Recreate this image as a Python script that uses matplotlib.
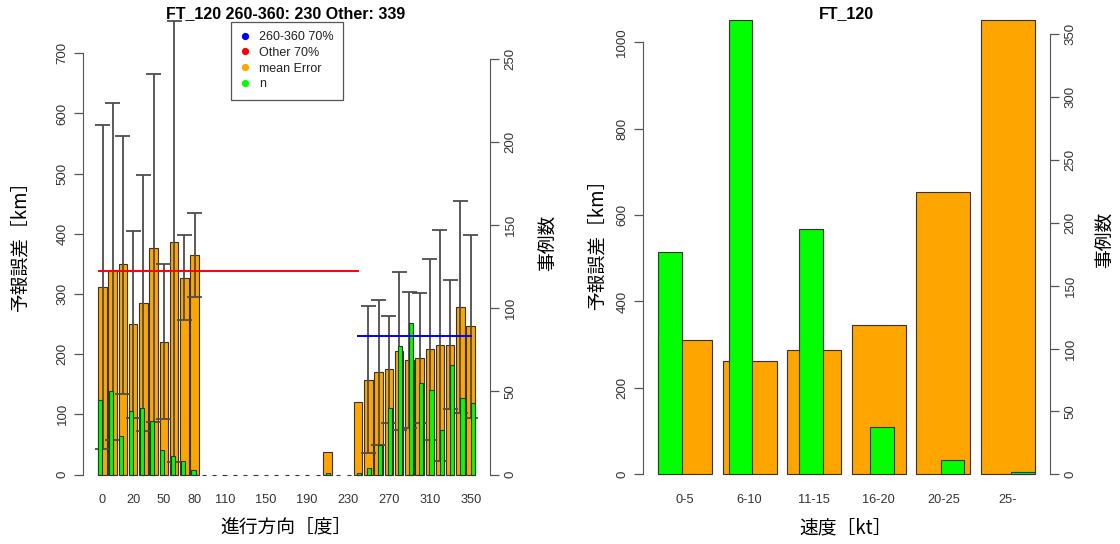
import numpy as np
import matplotlib.pyplot as plt
from matplotlib.lines import Line2D

plt.rcParams['font.family'] = ['Liberation Sans', 'Noto Sans CJK JP']

nan = np.nan

# --- left panel: error by direction of motion (FT_120) ---
dir_labels = ["0"] + [str(d) for d in range(0, 360, 10)]
dir_shown = [0, 3, 6, 9, 12, 16, 20, 24, 28, 32, 36]
dir_err = [312, 338, 350, 250, 285, 377, 221, 387, 327, 365,
           nan, nan, nan, nan, nan, nan, nan, nan, nan, nan, nan, nan,
           37, nan, nan,
           120, 157, 170, 175, 205, 190, 194, 209, 215, 216, 278, 246]
dir_lo = [42, 57, 133, 94, 73, 88, 93, 20, 257, 295] + [nan] * 16 + \
         [35, 49, 85, 74, 77, 86, 58, 23, 109, 102, 94]
dir_hi = [580, 618, 563, 405, 497, 665, 349, 754, 398, 434] + [nan] * 16 + \
         [280, 290, 264, 336, 303, 301, 358, 406, 323, 455, 398]
dir_n = [45, 50, 23, 38, 40, 32, 15, 11, 8, 3,
         0, 0, 0, 0, 0, 0, 0, 0, 0, 0, 0, 0,
         1, 0, 0,
         1, 4, 18, 40, 77, 91, 55, 51, 27, 66, 46, 43]
other_70 = 339
sector_70 = 230

# --- right panel: error by speed ---
spd_labels = ["0-5", "6-10", "11-15", "16-20", "20-25", "25-"]
spd_err = [311, 263, 288, 346, 654, 1052]
spd_n = [177, 361, 195, 38, 11, 2]

ORANGE = "#FFA500"
GREEN = "#00FF00"
EDGE = "#333333"
AXC = "#555555"
TXT = "#333333"
JP = "Noto Sans CJK JP"

fig = plt.figure(figsize=(11.2, 5.44), dpi=100)
W, H = 1120, 544


def style_axes(ax, ax2, lbound, rbound):
    for a in (ax, ax2):
        for s in ("top", "bottom"):
            a.spines[s].set_visible(False)
        a.tick_params(axis="y", length=6.5, width=0.9, color=AXC, labelsize=9.5,
                      labelcolor=TXT, pad=4, labelrotation=90)
    ax.spines["right"].set_visible(False)
    ax2.spines["left"].set_visible(False)
    ax.spines["left"].set_bounds(*lbound)
    ax.spines["left"].set_color(AXC)
    ax2.spines["right"].set_bounds(*rbound)
    ax2.spines["right"].set_color(AXC)
    plt.setp(ax.get_yticklabels(), va="center")
    plt.setp(ax2.get_yticklabels(), va="center")
    ax.tick_params(axis="x", length=0, labelsize=9.2, labelcolor=TXT, pad=1)
    ax2.tick_params(axis="x", length=0, labelbottom=False)


# ---------- left panel ----------
axL = fig.add_axes([83.2 / W, 51.5 / H, 406.8 / W, 490 / H])
axL2 = axL.twinx()
n_dir = len(dir_err)
idx = np.arange(n_dir)
left_o = 0.2 + 1.2 * idx
cent_o = left_o + 0.5
err = np.array(dir_err, dtype=float)
ok = ~np.isnan(err)
axL.bar(left_o[ok], err[ok], width=1.0, align="edge", color=ORANGE,
        edgecolor=EDGE, linewidth=0.8, zorder=2)
lo = np.array(dir_lo, dtype=float)
hi = np.array(dir_hi, dtype=float)
ek = ~np.isnan(lo)
axL.vlines(cent_o[ek], lo[ek], hi[ek], color="#4d4d4d", linewidth=1.3, zorder=3)
axL.hlines(lo[ek], cent_o[ek] - 0.88, cent_o[ek] + 0.88, color="#4d4d4d", linewidth=1.3, zorder=3)
axL.hlines(hi[ek], cent_o[ek] - 0.88, cent_o[ek] + 0.88, color="#4d4d4d", linewidth=1.3, zorder=3)

g_w = 44.2 / 91
left_g = 0.2 + 2.5 * g_w * idx
axL2.bar(left_g, dir_n, width=g_w, align="edge", color=GREEN,
         edgecolor=EDGE, linewidth=0.8)
axL2.plot([0.3, 30.7], [other_70, other_70], color="red", linewidth=1.4,
          transform=axL.transData)
axL2.plot([30.7, 43.9], [sector_70, sector_70], color="blue", linewidth=1.4,
          transform=axL.transData)

axL.set_xlim(-1.568, 46.168)
axL.set_ylim(-29.9, 784.4)
axL2.set_ylim(-10.8, 283.8)
axL.set_yticks(range(0, 701, 100))
axL2.set_yticks(range(0, 251, 50))
axL.set_xticks(cent_o[dir_shown])
axL.set_xticklabels([dir_labels[i] for i in dir_shown])
style_axes(axL, axL2, (0, 700), (0, 250))

handles = [Line2D([], [], marker="o", linestyle="None", markersize=4.2,
                  markerfacecolor=c, markeredgecolor=c) for c in
           ("blue", "red", ORANGE, GREEN)]
leg = axL2.legend(handles, ["260-360 70%", "Other 70%", "mean Error", "n"],
                  loc="upper left", bbox_to_anchor=(230.7 / W, 1 - 21.7 / H),
                  bbox_transform=fig.transFigure, borderaxespad=0,
                  fontsize=9, frameon=True, fancybox=False, framealpha=1,
                  edgecolor="#555555", handlelength=0.8, handletextpad=0.75,
                  labelspacing=0.3, borderpad=0.75)
leg.get_frame().set_linewidth(0.9)
for t in leg.get_texts():
    t.set_color("#222222")

fig.text(286 / W, 1 - 14 / H, "FT_120 260-360: 230 Other: 339", ha="center",
         va="center", fontsize=11.5, fontweight="bold")
fig.text(20 / W, 1 - 242 / H, "予報誤差［km］", rotation=90, ha="center",
         va="center", fontsize=13.5, family=JP)
fig.text(548 / W, 1 - 243 / H, "事例数", rotation=90, ha="center",
         va="center", fontsize=13.5, family=JP)
fig.text(286 / W, 1 - 528 / H, "進行方向［度］", ha="center", va="center",
         fontsize=13.5, family=JP)

# ---------- right panel ----------
axR = fig.add_axes([643 / W, 51.5 / H, 407 / W, 490 / H])
axR2 = axR.twinx()
sidx = np.arange(len(spd_err))
left_so = 0.2 + 1.2 * sidx
axR.bar(left_so, spd_err, width=1.0, align="edge", color=ORANGE,
        edgecolor=EDGE, linewidth=0.8)
left_sg = 0.2 + 3 * (7 / 16) * sidx
axR2.bar(left_sg, spd_n, width=7 / 16, align="edge", color=GREEN,
         edgecolor=EDGE, linewidth=0.8)
axR.set_xlim(-0.08, 7.48)
axR.set_ylim(-42.1, 1092)
axR2.set_ylim(-14.5, 375.3)
axR.set_yticks(range(0, 1001, 200))
axR2.set_yticks(range(0, 351, 50))
axR.set_xticks(left_so + 0.5)
axR.set_xticklabels(spd_labels)
style_axes(axR, axR2, (0, 1000), (0, 350))

fig.text(846 / W, 1 - 14 / H, "FT_120", ha="center", va="center",
         fontsize=11.5, fontweight="bold")
fig.text(597 / W, 1 - 240 / H, "予報誤差［km］", rotation=90, ha="center",
         va="center", fontsize=13.5, family=JP)
fig.text(1105 / W, 1 - 240 / H, "事例数", rotation=90, ha="center",
         va="center", fontsize=13.5, family=JP)
fig.text(846 / W, 1 - 528 / H, "速度［kt］", ha="center", va="center",
         fontsize=13.5, family=JP)

fig.savefig("out.png", dpi=100)
